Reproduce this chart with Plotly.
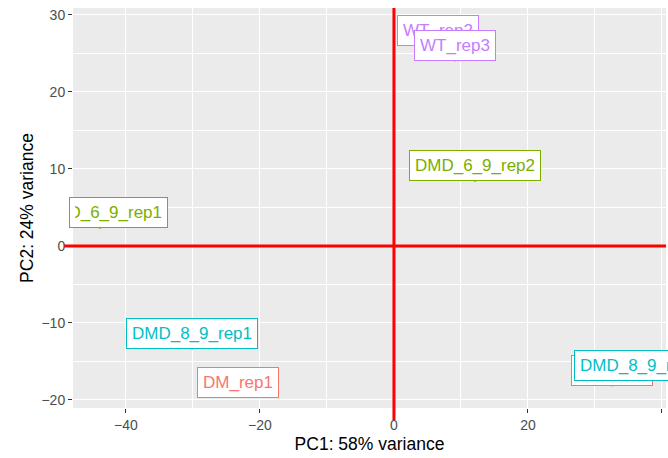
import plotly.graph_objects as go

samples = ["DM_rep1", "DM_rep2", "DMD_6_9_rep1", "DMD_6_9_rep2",
           "DMD_8_9_rep1", "DMD_8_9_rep2", "WT_rep2", "WT_rep3"]
groups = ["DM", "DM", "DMD_6_9", "DMD_6_9", "DMD_8_9", "DMD_8_9", "WT", "WT"]
pc1 = [-23.3, 32.5, -43.9, 12.1, -30.1, 36.7, 6.6, 9.1]
pc2 = [-19.5, -18.0, 2.5, 8.6, -13.2, -17.4, 26.2, 24.2]
x_ticks = [-40, -20, 0, 20, 40]
y_ticks = [-20, -10, 0, 10, 20, 30]
pct_var = [58, 24]

palette = {"DM": "#F8766D", "DMD_6_9": "#7CAE00", "DMD_8_9": "#00BFC4", "WT": "#C77CFF"}
FONT = "Liberation Sans, Arial, sans-serif"

# labels that run past the left panel edge are clipped there (as in the reference)
clip_left = {"DMD_6_9_rep1": dict(width=87, xshift=19, align="right")}

fig = go.Figure()
fig.add_trace(go.Scatter(
    x=pc1, y=pc2, mode="markers",
    marker=dict(size=4, color=[palette[g] for g in groups]),
    showlegend=False, hoverinfo="skip", cliponaxis=True,
))

for s, g, x, y in zip(samples, groups, pc1, pc2):
    extra = clip_left.get(s, {})
    fig.add_annotation(
        x=x, y=y, xref="x", yref="y", text=s, showarrow=False,
        yshift=14, font=dict(family=FONT, size=17, color=palette[g]),
        bgcolor="white", bordercolor=palette[g], borderwidth=1, borderpad=5,
        **extra,
    )

fig.add_shape(type="line", xref="x", yref="paper", x0=0, x1=0, y0=-0.03, y1=1,
              line=dict(color="red", width=3), layer="above")
fig.add_shape(type="line", xref="paper", yref="y", x0=-0.015, x1=1, y0=0, y1=0,
              line=dict(color="red", width=3), layer="above")

axis_common = dict(
    showgrid=True, gridcolor="white", gridwidth=1.3,
    zeroline=False, showline=False,
    ticks="outside", ticklen=4, tickwidth=1.2, tickcolor="#333333",
    tickfont=dict(family=FONT, size=14, color="#4D4D4D"),
)

fig.update_layout(
    width=668, height=458,
    margin=dict(l=73, r=2, t=8, b=50),
    paper_bgcolor="white", plot_bgcolor="#EBEBEB",
    font=dict(family=FONT),
    xaxis=dict(range=[-47.9, 40.6], tickvals=x_ticks,
               minor=dict(dtick=10, tick0=0, showgrid=True, gridcolor="white", gridwidth=0.6, ticks=""),
               title=dict(text=f"PC1: {pct_var[0]}% variance", font=dict(family=FONT, size=17.5, color="black"), standoff=5),
               **axis_common),
    yaxis=dict(range=[-21.04, 30.9], tickvals=y_ticks,
               minor=dict(dtick=5, tick0=0, showgrid=True, gridcolor="white", gridwidth=0.6, ticks=""),
               title=dict(text=f"PC2: {pct_var[1]}% variance", font=dict(family=FONT, size=17.5, color="black"), standoff=3),
               **axis_common),
)

fig.write_html("out.html")
